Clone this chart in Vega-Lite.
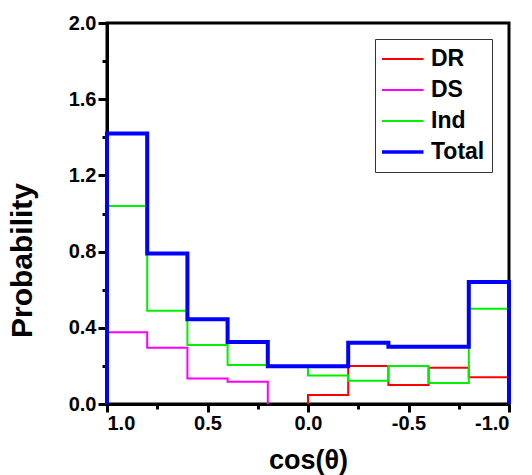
{
  "$schema": "https://vega.github.io/schema/vega-lite/v6.json",
  "autosize": {"type": "none"},
  "width": 402,
  "height": 381,
  "padding": {"left": 107, "top": 23, "right": 23, "bottom": 71},
  "background": "white",
  "config": {
    "locale": {"number": {"decimal": ".", "thousands": ",", "grouping": [3], "currency": ["$", ""], "minus": "-"}},
    "view": {"stroke": "black", "strokeWidth": 3},
    "font": "Liberation Sans",
    "axis": {
      "labelFont": "Liberation Sans", "labelFontWeight": "bold", "labelFontSize": 20, "labelColor": "black",
      "titleFont": "Liberation Sans", "titleFontWeight": "bold", "titleColor": "black",
      "domainColor": "black", "domainWidth": 3, "tickColor": "black", "tickWidth": 3, "grid": false
    },
    "legend": {
      "title": null, "orient": "none", "legendX": 268, "legendY": 16,
      "symbolType": "stroke", "symbolSize": 1764, "symbolStrokeWidth": 2, "clipHeight": 26, "symbolOffset": 9,
      "labelFont": "Liberation Sans", "labelFontWeight": "bold", "labelFontSize": 23, "labelColor": "black",
      "labelOffset": 17, "rowPadding": 5, "padding": 7,
      "strokeColor": "#333333", "fillColor": "white"
    }
  },
  "data": {
    "values": [
      {"s": "DR", "x": 0.0, "p": 0, "k": 0},
      {"s": "DR", "x": 0.0, "p": 0.047, "k": 1},
      {"s": "DR", "x": -0.2, "p": 0.20, "k": 2},
      {"s": "DR", "x": -0.4, "p": 0.10, "k": 3},
      {"s": "DR", "x": -0.6, "p": 0.19, "k": 4},
      {"s": "DR", "x": -0.8, "p": 0.14, "k": 5},
      {"s": "DR", "x": -1.0, "p": 0, "k": 6},
      {"s": "DS", "x": 1.0, "p": 0, "k": 0},
      {"s": "DS", "x": 1.0, "p": 0.377, "k": 1},
      {"s": "DS", "x": 0.8, "p": 0.295, "k": 2},
      {"s": "DS", "x": 0.6, "p": 0.134, "k": 3},
      {"s": "DS", "x": 0.4, "p": 0.117, "k": 4},
      {"s": "DS", "x": 0.2, "p": 0, "k": 5},
      {"s": "Ind", "x": 1.0, "p": 0, "k": 0},
      {"s": "Ind", "x": 1.0, "p": 1.04, "k": 1},
      {"s": "Ind", "x": 0.8, "p": 0.49, "k": 2},
      {"s": "Ind", "x": 0.6, "p": 0.31, "k": 3},
      {"s": "Ind", "x": 0.4, "p": 0.205, "k": 4},
      {"s": "Ind", "x": 0.2, "p": 0.197, "k": 5},
      {"s": "Ind", "x": 0.0, "p": 0.15, "k": 6},
      {"s": "Ind", "x": -0.2, "p": 0.122, "k": 7},
      {"s": "Ind", "x": -0.4, "p": 0.20, "k": 8},
      {"s": "Ind", "x": -0.6, "p": 0.11, "k": 9},
      {"s": "Ind", "x": -0.8, "p": 0.50, "k": 10},
      {"s": "Ind", "x": -1.0, "p": 0, "k": 11},
      {"s": "Total", "x": 1.0, "p": 0, "k": 0},
      {"s": "Total", "x": 1.0, "p": 1.42, "k": 1},
      {"s": "Total", "x": 0.8, "p": 0.79, "k": 2},
      {"s": "Total", "x": 0.6, "p": 0.445, "k": 3},
      {"s": "Total", "x": 0.4, "p": 0.325, "k": 4},
      {"s": "Total", "x": 0.2, "p": 0.198, "k": 5},
      {"s": "Total", "x": 0.0, "p": 0.198, "k": 6},
      {"s": "Total", "x": -0.2, "p": 0.322, "k": 7},
      {"s": "Total", "x": -0.4, "p": 0.30, "k": 8},
      {"s": "Total", "x": -0.6, "p": 0.30, "k": 9},
      {"s": "Total", "x": -0.8, "p": 0.64, "k": 10},
      {"s": "Total", "x": -1.0, "p": 0, "k": 11}
    ]
  },
  "resolve": {"axis": {"x": "independent", "y": "independent"}},
  "layer": [
    {
      "transform": [{"filter": "datum.s !== 'Total'"}],
      "mark": {"type": "line", "interpolate": "step-after", "clip": false, "strokeWidth": 2},
      "encoding": {
        "x": {
          "field": "x", "type": "quantitative",
          "scale": {"domain": [-1, 1], "reverse": true, "nice": false, "zero": false},
          "axis": {"orient": "bottom", "values": [1, 0.5, 0, -0.5, -1], "format": ".1f", "tickSize": 8, "labelPadding": 1,
                   "title": "cos(θ)", "titleFontSize": 27, "titleBaseline": "alphabetic", "titleY": 64, "titleAngle": 0}
        },
        "y": {
          "field": "p", "type": "quantitative",
          "scale": {"domain": [0, 2], "nice": false},
          "axis": {"orient": "left", "values": [0, 0.4, 0.8, 1.2, 1.6, 2.0], "format": ".1f", "tickSize": 9, "labelPadding": 2,
                   "title": "Probability", "titleFontSize": 30, "titleAngle": -90, "titleBaseline": "alphabetic", "titleAlign": "center",
                   "titleX": -76, "titleY": 237}
        },
        "order": {"field": "k", "type": "quantitative"},
        "color": {
          "field": "s", "type": "nominal",
          "scale": {"domain": ["DR", "DS", "Ind", "Total"], "range": ["#ff0000", "#ff00ff", "#00f000", "#0000ff"]},
          "legend": {
            "encode": {"symbols": {"update": {"strokeWidth": {"signal": "datum.label === 'Total' ? 3.5 : 2"}}}}
          }
        }
      }
    },
    {
      "transform": [{"filter": "datum.s === 'Total'"}],
      "mark": {"type": "line", "interpolate": "step-after", "clip": false, "strokeWidth": 4},
      "encoding": {
        "x": {"field": "x", "type": "quantitative", "axis": null},
        "y": {"field": "p", "type": "quantitative", "axis": null},
        "order": {"field": "k", "type": "quantitative"},
        "color": {"field": "s", "type": "nominal"}
      }
    },
    {
      "mark": {"type": "point", "opacity": 0},
      "encoding": {
        "x": {
          "field": "x", "type": "quantitative",
          "axis": {"orient": "bottom", "values": [0.75, 0.25, -0.25, -0.75], "tickSize": 5, "labels": false, "domain": false, "title": null}
        },
        "y": {
          "field": "p", "type": "quantitative",
          "axis": {"orient": "left", "values": [0.2, 0.6, 1.0, 1.4, 1.8], "tickSize": 5, "labels": false, "domain": false, "title": null}
        }
      }
    }
  ]
}
